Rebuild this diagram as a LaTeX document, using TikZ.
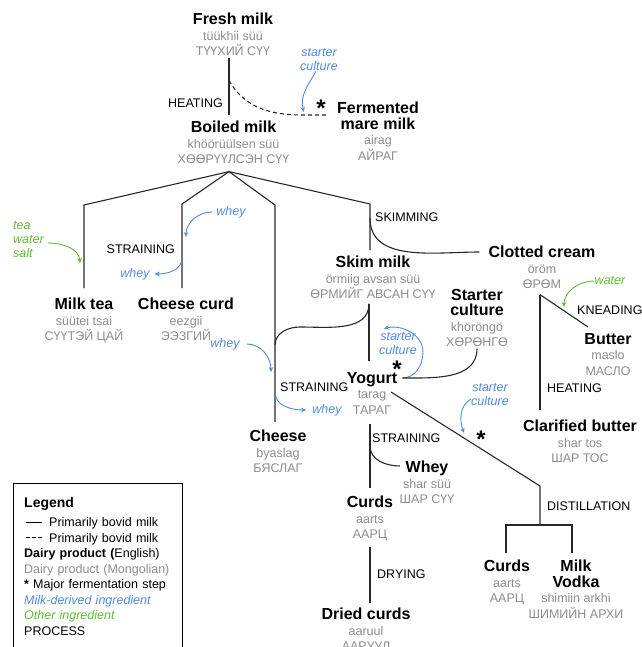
\documentclass[tikz,border=0pt]{standalone}
\usepackage{fontspec}
\setmainfont{Liberation Sans}
\usepackage{xcolor}
\usepackage{tikz}
\usetikzlibrary{arrows.meta,calc}

\definecolor{mngray}{RGB}{140,140,140}
\definecolor{ingblue}{RGB}{80,138,222}
\definecolor{inggreen}{RGB}{92,190,50}
\definecolor{flowline}{RGB}{40,40,40}

\newcommand{\ttl}{\color{black}\bfseries\fontsize{16}{15.5}\selectfont}
\newcommand{\mn}{\color{mngray}\mdseries\fontsize{12.5}{15.5}\selectfont}
\newcommand{\dairy}[3]{\ttl #1\\\mn #2\\\mn #3}

\begin{document}
\begin{tikzpicture}[
    x=1pt, y=-1pt,
    product/.style={align=center, anchor=north, inner sep=0pt, font=\fontsize{12.5}{15.5}\selectfont},
    process/.style={inner sep=0pt, font=\fontsize{12.5}{15}\selectfont},
    milkin/.style={inner sep=0pt, align=center, text=ingblue, font=\itshape\fontsize{12.5}{14}\selectfont},
    otherin/.style={milkin, text=inggreen},
    ferment/.style={inner sep=0pt, font=\bfseries\fontsize{24}{24}\selectfont},
    bovid/.style={draw=flowline, line width=1.1pt},
    mare/.style={bovid, dash pattern=on 4pt off 3pt},
    inarrow/.style={->, >={Stealth[length=5pt,width=4.5pt]}, ingblue, line width=0.9pt},
    otherarrow/.style={inarrow, inggreen},
    legendbox/.style={anchor=north west, align=left, text width=147pt, inner xsep=11pt, inner ysep=0pt, font=\fontsize{12.5}{15.5}\selectfont},
    legendframe/.style={draw=black, line width=0.8pt}
]
    \useasboundingbox (0,0) rectangle (641,647);

    % Milk
    \node[product] (fresh) at (233,13) {\dairy{Fresh milk}{tüükhii süü}{ТҮҮХИЙ СҮҮ}};
    \node[product] (boiled) at (233.5,121) {\dairy{Boiled milk}{khöörüülsen süü}{ХӨӨРҮҮЛСЭН СҮҮ}};
    \node[product] (airag) at (378,102) {\dairy{Fermented\\\ttl mare milk}{airag}{АЙРАГ}};

    % Products of boiled milk
    \node[product] (milktea) at (84,298) {\dairy{Milk tea}{süütei tsai}{СҮҮТЭЙ ЦАЙ}};
    \node[product] (cheesecurd) at (186,298) {\dairy{Cheese curd}{eezgii}{ЭЭЗГИЙ}};
    \node[product] (skim) at (373,256) {\dairy{Skim milk}{örmiig avsan süü}{ӨРМИЙГ АВСАН СҮҮ}};
    \node[product] (clotted) at (542,246) {\dairy{Clotted cream}{öröm}{ӨРӨМ}};
    \node[product] (starter) at (477,289) {\dairy{Starter\\\ttl culture}{khöröngö}{ХӨРӨНГӨ}};
    \node[product] (butter) at (608,333) {\dairy{Butter}{maslo}{МАСЛО}};
    \node[product] (yogurt) at (372,372) {\dairy{Yogurt}{tarag}{ТАРАГ}};
    \node[product] (cheese) at (278,430) {\dairy{Cheese}{byaslag}{БЯСЛАГ}};
    \node[product] (clarified) at (580,420) {\dairy{Clarified butter}{shar tos}{ШАР ТОС}};
    \node[product] (whey) at (427,461) {\dairy{Whey}{shar süü}{ШАР СҮҮ}};
    \node[product] (curds) at (370,496) {\dairy{Curds}{aarts}{ААРЦ}};
    \node[product] (distcurds) at (507,560) {\dairy{Curds}{aarts}{ААРЦ}};
    \node[product] (vodka) at (576,560) {\dairy{Milk\\\ttl Vodka}{shimiin arkhi}{ШИМИЙН АРХИ}};
    \node[product] (dried) at (366,608) {\dairy{Dried curds}{aaruul}{ААРУУЛ}};

    % Processes
    \node[process, anchor=east] (heat1) at (223,103) {HEATING};
    \node[process, anchor=west] (skimming) at (375,217) {SKIMMING};
    \node[process, anchor=east] (strain1) at (175,249) {STRAINING};
    \node[process, anchor=west] (strain2) at (280,387) {STRAINING};
    \node[process, anchor=west] (strain3) at (372,438) {STRAINING};
    \node[process, anchor=west] (drying) at (377,574) {DRYING};
    \node[process, anchor=west] (distill) at (547,506) {DISTILLATION};
    \node[process, anchor=west] (knead) at (577,310) {KNEADING};
    \node[process, anchor=west] (heat2) at (547,388) {HEATING};

    % Ingredients
    \node[milkin] (cult1) at (319,60) {starter\\culture};
    \node[milkin] (whey1) at (231,212) {whey};
    \node[milkin] (whey2) at (135,274) {whey};
    \node[milkin] (whey3) at (225,344) {whey};
    \node[milkin] (whey4) at (327,410) {whey};
    \node[milkin] (cult2) at (398,344) {starter\\culture};
    \node[milkin] (cult3) at (490,395) {starter\\culture};
    \node[otherin, align=left, anchor=west] (teaadd) at (13,240) {tea\\water\\salt};
    \node[otherin] (water) at (610,281) {water};

    % Fermentation steps
    \node[ferment] (star1) at (321,108) {*};
    \node[ferment] (star2) at (397,369) {*};
    \node[ferment] (star3) at (481,439) {*};

    % Heating and mare milk
    \coordinate (fmout) at ([xshift=-4pt,yshift=-1.5pt]fresh.south);
    \coordinate (bmin) at ([xshift=-4.5pt,yshift=6pt]boiled.north);
    \draw[bovid] (fmout) -- (bmin);
    \coordinate (marefork) at ($(fmout)!0.4!(bmin)$);
    \coordinate (airagin) at ([xshift=-9pt,yshift=-13pt]airag.north west);
    \draw[mare] (marefork) to[out=-60,in=180] ([xshift=-25pt]airagin) -- (airagin);
    \draw[inarrow] ([xshift=-3pt]cult1.south) to[out=-120,in=105] ([xshift=-24pt,yshift=3pt]airagin);

    % Boiled milk splits
    \coordinate (split) at ([xshift=-4.5pt,yshift=-7.5pt]boiled.south);
    \coordinate (ccin) at ([xshift=-4pt,yshift=10pt]cheesecurd.north);
    \coordinate (chin) at ([xshift=-3pt,yshift=8pt]cheese.north);
    \coordinate (skin) at ([xshift=-3pt,yshift=6pt]skim.north);
    \draw[bovid] (split) -- (milktea.north |- 0,205) -- ([yshift=10pt]milktea.north);
    \draw[bovid] (split) -- (ccin |- 0,204) -- (ccin);
    \draw[bovid] (split) -- (chin |- 0,205) -- (chin);
    \draw[bovid] (split) -- (skin |- 0,204) -- (skin);
    \coordinate (clotin) at ([xshift=-9pt,yshift=-6pt]clotted.north west);
    \draw[bovid] (skin |- 0,218) to[out=-90,in=180] (clotin);

    % Milk tea and cheese curd
    \draw[otherarrow] ([xshift=4pt,yshift=-3pt]teaadd.east) to[out=0,in=95] ([xshift=-4pt,yshift=35pt]milktea.north);
    \draw[inarrow] ([xshift=-4pt]whey1.west) to[out=180,in=90] ([xshift=4pt,yshift=51pt]ccin);
    \draw[inarrow] ([yshift=30pt]ccin) to[out=-90,in=0] ([xshift=5pt]whey2.east);

    % Skim milk to cheese and yogurt
    \coordinate (skout) at ([xshift=-4pt,yshift=-4.5pt]skim.south);
    \coordinate (yogin) at ([xshift=-3pt,yshift=11pt]yogurt.north);
    \draw[bovid] (skout) to[out=-90,in=0] (300,327) to[out=180,in=90] (chin |- 0,345);
    \draw[bovid] (skout) -- (yogin);
    \draw[inarrow] ([xshift=7pt]whey3.east) to[out=0,in=90] ([xshift=-4pt,yshift=50pt]chin);
    \draw[inarrow] ([yshift=30pt]chin) to[out=-90,in=180] ([xshift=-6pt]whey4.west);

    % Yogurt
    \coordinate (yogr) at ([xshift=5pt,yshift=-6pt]yogurt.north east);
    \draw[inarrow] (yogr) to[out=0,in=-90] (423,352) to[out=90,in=15] ([xshift=-14pt,yshift=4pt]cult2.north);
    \draw[bovid] ([yshift=-1.5pt]starter.south) to[out=-90,in=0] (yogr);

    % Distillation
    \coordinate (yogdiag) at ([xshift=19pt,yshift=-20pt]yogurt.north);
    \coordinate (distfork) at (540,525);
    \draw[bovid] (yogdiag) -- (distfork |- 0,486) -- (distfork);
    \draw[bovid] ([xshift=-1pt,yshift=7pt]distcurds.north) -- ([xshift=-1pt,yshift=35pt]distcurds.north)
        -- ([xshift=-4pt,yshift=35pt]vodka.north) -- ([xshift=-4pt,yshift=7pt]vodka.north);
    \draw[inarrow] ([yshift=-4pt]cult3.west) to[out=-150,in=110] ([xshift=-17pt,yshift=6pt]star3);

    % Straining and drying
    \coordinate (yogout) at ([xshift=-2pt,yshift=-9.5pt]yogurt.south);
    \draw[bovid] (yogout) -- ([yshift=8pt]curds.north);
    \draw[bovid] ([yshift=-22pt]yogout) to[out=-90,in=180] ([xshift=-27pt,yshift=-5pt]whey.north);
    \draw[bovid] ([yshift=-6pt]curds.south) -- ([xshift=4pt,yshift=5pt]dried.north);

    % Clotted cream
    \coordinate (clotout) at ([xshift=-2pt,yshift=-5.5pt]clotted.south);
    \draw[bovid] (clotout) -- ([xshift=-20pt,yshift=6pt]butter.north);
    \draw[bovid] (clotout) -- ([xshift=-40pt,yshift=10pt]clarified.north);
    \draw[otherarrow] (water.west) to[out=180,in=90] ([xshift=-44pt,yshift=26pt]butter.north);

    % Legend
    \node[legendbox] (legend) at (13,497) {%
        {\bfseries\fontsize{14}{15.5}\selectfont Legend}\\[4pt]
        \hspace*{2pt}\rule[4pt]{16pt}{0.9pt}\hspace{7pt}Primarily bovid milk\\
        \hspace*{2pt}\rule[4pt]{4pt}{0.9pt}\hspace{2pt}\rule[4pt]{4pt}{0.9pt}\hspace{2pt}\rule[4pt]{4pt}{0.9pt}\hspace{7pt}Primarily bovid milk\\
        \textbf{Dairy product (}English)\\
        {\color{mngray}Dairy product (Mongolian)}\\
        \textbf{*} Major fermentation step\\
        {\color{ingblue}\itshape Milk-derived ingredient}\\
        {\color{inggreen}\itshape Other ingredient}\\
        PROCESS};
    \draw[legendframe] ([yshift=14pt]legend.north west) rectangle ([yshift=-30pt]legend.south east);

\end{tikzpicture}
\end{document}
